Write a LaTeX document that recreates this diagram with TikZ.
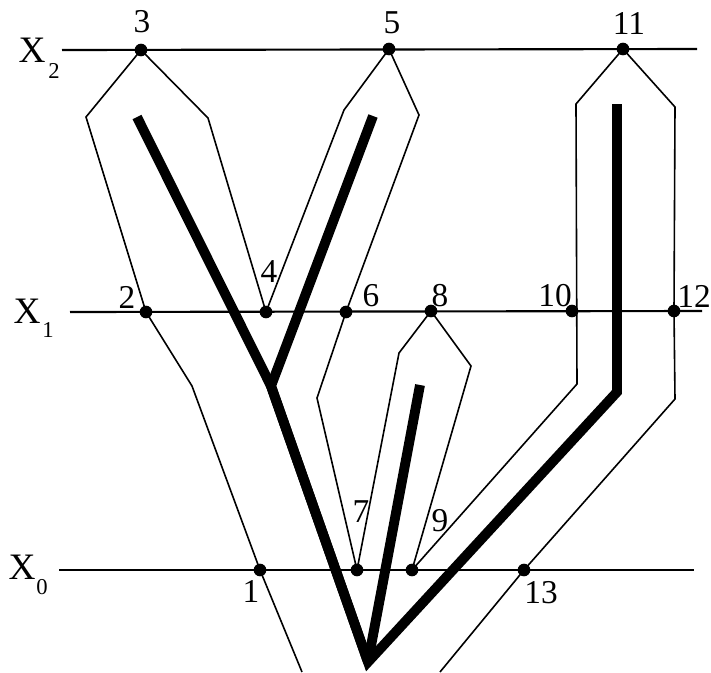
\documentclass[tikz,border=0pt]{standalone}
\usepackage{fontspec}
\setmainfont{Liberation Serif}
\begin{document}
\begin{tikzpicture}[x=0.75pt,y=-0.75pt,
  axis/.style={line width=1.6pt},
  outline/.style={line width=1.2pt, line join=miter},
  branch/.style={line width=7.4pt, line join=miter, line cap=butt},
  pt/.style={circle, fill, inner sep=0pt, minimum size=9.5pt},
  lbl/.style={font=\fontsize{25}{27}\selectfont, inner sep=0pt},
  axlbl/.style={font=\fontsize{28}{30}\selectfont, inner sep=0pt},
  sublbl/.style={font=\fontsize{17}{19}\selectfont, inner sep=0pt}]
\useasboundingbox (0,0) rectangle (711,672);
% axis ends
\coordinate (a2l) at (62,50);  \coordinate (a2r) at (697,49);
\coordinate (a1l) at (70,312); \coordinate (a1r) at (702,311);
\coordinate (a0l) at (59,570); \coordinate (a0r) at (694,570);
\draw[axis] (a2l) -- (a2r);
\draw[axis] (a1l) -- (a1r);
\draw[axis] (a0l) -- (a0r);
% points
\node[pt] (p3) at (141,50) {};
\node[pt] (p5) at (389,49) {};
\node[pt] (p11) at (623,49) {};
\node[pt] (p2) at (146,312) {};
\node[pt] (p4) at (266,312) {};
\node[pt] (p6) at (346,312) {};
\node[pt] (p8) at (431,311) {};
\node[pt] (p10) at (572,311) {};
\node[pt] (p12) at (674,311) {};
\node[pt] (p1) at (260,570) {};
\node[pt] (p7) at (357,570) {};
\node[pt] (p9) at (412,570) {};
\node[pt] (p13) at (524,570) {};
% outline corners
\coordinate (b0) at (302,672);
\coordinate (c1) at (192,386);
\coordinate (c2) at (86,117);
\coordinate (c3) at (208,118);
\coordinate (c4) at (344,110);
\coordinate (c5) at (419,115);
\coordinate (c6) at (317,398);
\coordinate (c7) at (399,353);
\coordinate (c8) at (471,366);
\coordinate (c9) at (577,384);
\coordinate (c10) at (576,104);
\coordinate (c11) at (675,107);
\coordinate (c12) at (675,399);
\coordinate (b1) at (440,672);
\draw[outline] (b0) -- (p1.center) -- (c1) -- (p2.center) -- (c2) -- (p3.center) -- (c3)
  -- (p4.center) -- (c4) -- (p5.center) -- (c5) -- (p6.center) -- (c6) -- (p7.center)
  -- (c7) -- (p8.center) -- (c8) -- (p9.center) -- (c9) -- (c10) -- (p11.center)
  -- (c11) -- (p12.center) -- (c12) -- (p13.center) -- (b1);
% thick branches
\coordinate (t1) at (137,117);
\coordinate (t2) at (373,116);
\coordinate (t3) at (420,385);
\coordinate (t4) at (617,104);
\coordinate (k4) at (617,392);
\coordinate (j) at (271,386);
\coordinate (ap) at (368,662);
\draw[branch] (t1) -- (j) -- (ap) -- (k4) -- (t4);
\draw[branch] (t2) -- (j) -- (ap);
\draw[branch] (t3) -- (ap);
% labels
\node[lbl] (l3) at (142,22) {3};
\node[lbl] (l5) at (392,23) {5};
\node[lbl] (l11) at (629,23) {11};
\node[lbl] (l2) at (127,297) {2};
\node[lbl] (l4) at (269,272) {4};
\node[lbl] (l6) at (371,296) {6};
\node[lbl] (l8) at (440,296) {8};
\node[lbl] (l10) at (555,296) {10};
\node[lbl] (l12) at (694,296) {12};
\node[lbl] (l1) at (251,591) {1};
\node[lbl] (l7) at (361,512) {7};
\node[lbl] (l9) at (440,521) {9};
\node[lbl] (l13) at (541,593) {13};
\node[axlbl] (x2) at (32,50) {X};
\node[sublbl] (x2s) at (54,71) {2};
\node[axlbl] (x1) at (27,311) {X};
\node[sublbl] (x1s) at (48,330) {1};
\node[axlbl] (x0) at (22,567) {X};
\node[sublbl] (x0s) at (42,587) {0};
\end{tikzpicture}
\end{document}
